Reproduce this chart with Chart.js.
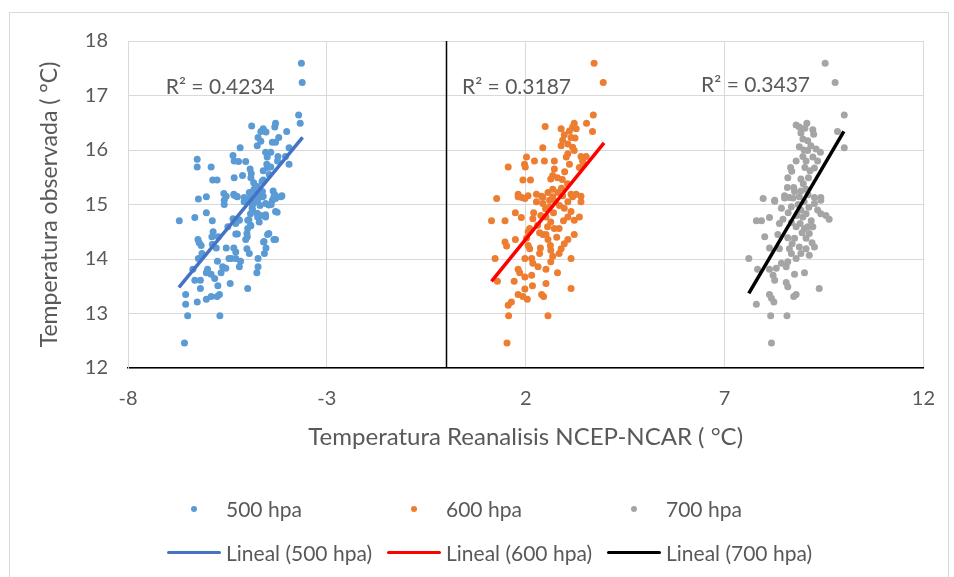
<!DOCTYPE html>
<html lang="es">
<head>
<meta charset="utf-8">
<title>Temperatura observada vs Reanalisis NCEP-NCAR</title>
<script src="https://cdn.jsdelivr.net/npm/chart.js@4.4.1/dist/chart.umd.min.js"></script>
<style>
  body { margin: 0; background: #fff; }
  #contenedor { position: relative; width: 954px; height: 577px; }
  #leyenda .item {
    position: absolute; height: 24px; line-height: 24px;
    font-family: Lato, sans-serif; font-size: 21px; color: #595959; white-space: nowrap;
  }
  #leyenda .simbolo { display: inline-block; width: 54px; height: 24px; position: relative; vertical-align: top; }
  #leyenda .punto { position: absolute; left: 24px; top: 9px; width: 6px; height: 6px; border-radius: 50%; }
  #leyenda .linea { position: absolute; left: 0; top: 10px; width: 54px; height: 3px; border-radius: 2px; }
  #leyenda .texto { margin-left: 5px; }
</style>
</head>
<body>
<div id="contenedor">
  <canvas id="chart-temperatura"></canvas>
  <div id="leyenda"></div>
</div>
<script>
// --- DATOS ---
const ticksX = [-8, -3, 2, 7, 12];
const series = ['500 hpa', '600 hpa', '700 hpa'];
const textosR2 = ['R² = 0.4234', 'R² = 0.3187', 'R² = 0.3437'];

// [Temperatura reanalisis, Temperatura observada]
const puntos500 = [
  [-3.64,17.59],[-3.62,17.24],[-3.71,16.64],[-3.67,16.49],[-4.89,16.44],[-4.29,16.49],[-4.31,16.42],[-4.60,16.39],
  [-4.66,16.34],[-4.53,16.33],[-4.01,16.34],[-4.73,16.23],[-4.21,16.23],[-4.66,16.16],[-4.37,16.14],[-4.75,16.08],
  [-4.29,16.14],[-3.95,16.04],[-5.18,16.04],[-6.26,15.83],[-6.26,15.69],[-5.91,15.69],[-5.36,15.90],[-5.33,15.80],
  [-5.22,15.79],[-5.04,15.79],[-4.54,15.96],[-4.50,15.87],[-4.41,15.96],[-4.23,15.88],[-4.24,15.80],[-4.51,15.74],
  [-4.49,15.68],[-3.95,15.74],[-4.41,15.69],[-4.93,15.65],[-4.90,15.57],[-5.12,15.53],[-4.91,15.49],[-5.33,15.49],
  [-5.87,15.45],[-5.76,15.45],[-4.60,15.45],[-4.04,15.88],[-5.59,15.20],[-5.53,15.15],[-5.34,15.19],[-5.27,15.15],
  [-6.03,15.14],[-6.23,15.10],[-4.95,15.22],[-4.83,15.28],[-4.76,15.18],[-4.35,15.25],[-4.31,15.18],[-4.14,15.15],
  [-4.60,15.15],[-5.08,15.13],[-5.58,15.08],[-5.58,15.00],[-5.25,15.14],[-5.08,15.05],[-4.95,15.11],[-4.87,14.99],
  [-4.87,14.90],[-4.74,15.08],[-4.62,15.14],[-4.54,15.02],[-4.37,15.08],[-4.33,15.14],[-4.16,15.14],[-4.29,14.87],
  [-4.74,14.77],[-4.54,14.77],[-4.66,14.80],[-6.71,14.70],[-6.32,14.76],[-6.03,14.85],[-5.88,14.70],[-5.36,14.74],
  [-5.20,14.71],[-5.29,14.65],[-4.99,14.71],[-4.91,14.61],[-4.99,14.56],[-5.49,14.59],[-5.86,14.50],[-5.29,14.46],
  [-5.01,14.47],[-5.04,14.36],[-4.49,14.45],[-4.33,14.36],[-6.24,14.36],[-6.21,14.30],[-6.16,14.25],[-5.89,14.41],
  [-5.73,14.41],[-5.88,14.27],[-5.78,14.20],[-5.53,14.20],[-5.34,14.20],[-5.29,14.13],[-5.01,14.19],[-4.95,14.10],
  [-4.59,14.31],[-4.53,14.20],[-4.57,14.10],[-6.14,14.10],[-6.23,14.01],[-5.75,13.96],[-5.46,14.01],[-5.40,14.01],
  [-5.29,14.01],[-5.17,13.96],[-4.73,14.01],[-5.20,13.86],[-5.62,13.86],[-5.54,13.83],[-5.66,13.75],[-4.73,13.86],
  [-4.76,13.75],[-6.37,13.81],[-6.00,13.81],[-6.03,13.75],[-5.91,13.72],[-5.82,13.64],[-6.32,13.61],[-6.18,13.61],
  [-5.43,13.55],[-5.74,13.51],[-6.18,13.46],[-4.99,13.46],[-6.55,13.35],[-5.70,13.35],[-5.76,13.31],[-5.91,13.31],
  [-6.03,13.26],[-6.26,13.21],[-6.55,13.17],[-6.50,12.96],[-5.69,12.96],[-6.58,12.46],[-5.33,15.17],[-4.96,15.08],
  [-4.83,15.27],[-4.75,15.33],[-4.63,15.42],[-4.71,15.17],[-4.88,14.93],[-4.75,14.84],[-4.54,14.81],[-4.96,14.72],
  [-4.92,14.62],[-5.21,14.72],[-4.46,14.99],[-4.29,15.11],[-4.13,15.16],[-4.25,14.86],[-4.46,14.47],[-4.29,14.36],
  [-4.58,14.32],[-5.00,14.41],[-5.25,14.46],[-4.80,15.05],[-4.68,14.98],[-4.85,15.14],[-4.62,15.24],[-4.92,14.83],
  [-4.70,14.68],[-4.40,15.00],[-4.84,15.40],[-4.45,15.55],[-4.60,15.62]
];

const puntos600 = [
  [3.72,17.59],[3.95,17.24],[3.70,16.64],[3.53,16.49],[2.49,16.43],[3.22,16.49],[3.18,16.42],[3.68,16.34],
  [2.89,16.39],[3.10,16.35],[3.27,16.39],[2.97,16.28],[3.14,16.23],[3.24,16.22],[2.93,16.18],[2.89,16.08],
  [3.06,16.11],[3.18,16.05],[2.43,16.04],[3.22,15.99],[3.06,15.93],[3.02,15.87],[3.39,15.88],[3.43,15.80],
  [3.52,15.88],[2.02,15.87],[1.97,15.74],[2.22,15.80],[2.47,15.80],[2.72,15.80],[3.10,15.74],[1.56,15.69],
  [1.99,15.69],[2.72,15.65],[2.68,15.53],[2.63,15.47],[2.80,15.49],[2.92,15.46],[1.93,15.45],[2.12,15.45],
  [3.47,15.74],[3.35,15.68],[1.27,15.11],[1.81,15.19],[1.90,15.13],[2.06,15.16],[2.27,15.19],[2.43,15.13],
  [2.56,15.22],[2.68,15.28],[2.81,15.22],[2.93,15.16],[3.14,15.19],[3.27,15.19],[3.39,15.15],[1.81,15.14],
  [1.98,15.11],[2.27,15.05],[2.43,15.02],[2.60,15.08],[2.68,15.14],[3.06,15.05],[3.18,15.14],[3.39,15.05],
  [2.97,14.93],[3.14,14.87],[3.35,14.77],[3.22,14.71],[3.06,14.77],[1.14,14.70],[1.48,14.70],[1.74,14.85],
  [1.89,14.76],[2.18,14.74],[2.51,14.77],[2.63,14.68],[2.55,14.59],[2.72,14.56],[2.84,14.56],[2.10,14.56],
  [2.06,14.50],[2.43,14.45],[2.51,14.45],[3.22,14.45],[3.06,14.36],[2.97,14.28],[2.89,14.19],[2.84,14.10],
  [2.63,14.16],[2.37,14.20],[2.35,14.10],[2.56,14.36],[1.48,14.31],[1.52,14.24],[1.74,14.36],[2.02,14.38],
  [2.06,14.25],[2.10,14.19],[2.15,14.01],[1.98,14.01],[1.23,14.01],[3.14,14.01],[2.63,13.95],[2.51,13.81],
  [2.31,13.86],[2.18,13.92],[1.81,13.81],[1.85,13.75],[1.98,13.67],[2.15,13.70],[2.80,13.75],[1.29,13.59],
  [1.71,13.59],[2.51,13.55],[2.17,13.51],[1.98,13.45],[3.14,13.46],[1.81,13.35],[1.93,13.31],[2.04,13.26],
  [2.40,13.35],[2.45,13.31],[1.64,13.21],[1.56,13.15],[1.57,12.96],[2.56,12.96],[1.53,12.46],[2.75,15.05],
  [2.85,14.98],[2.50,14.92],[2.38,14.80],[2.70,14.85],[2.95,14.70],[2.30,14.62],[2.62,14.25],[2.78,14.40],
  [2.60,14.96],[2.40,15.15],[2.90,15.30],[2.98,15.60],[3.05,15.38],[2.20,14.85],[2.35,14.48],[2.68,14.05]
];

const puntos700 = [
  [9.53,17.59],[9.78,17.24],[10.01,16.64],[9.84,16.34],[10.01,16.04],[8.80,16.46],[8.88,16.42],[9.07,16.49],
  [9.02,16.40],[9.22,16.37],[9.24,16.29],[8.92,16.31],[8.97,16.20],[9.09,16.17],[8.88,16.06],[9.17,16.08],
  [9.30,16.02],[9.09,15.99],[9.41,15.96],[8.97,15.88],[9.22,15.87],[9.05,15.80],[9.34,15.80],[9.02,15.68],
  [9.26,15.67],[8.66,15.68],[8.69,15.61],[8.92,15.47],[8.59,15.49],[9.11,15.49],[8.58,15.31],[8.74,15.31],
  [7.97,15.11],[8.26,15.08],[8.51,15.16],[8.76,15.24],[8.92,15.25],[9.05,15.28],[9.26,15.13],[9.42,15.13],
  [8.63,15.13],[8.26,15.06],[8.51,15.12],[8.72,15.12],[8.88,15.14],[9.42,15.08],[9.26,15.02],[8.43,14.93],
  [8.68,14.96],[8.92,14.90],[9.05,14.83],[9.34,14.90],[9.42,14.83],[9.55,14.80],[9.63,14.73],[7.80,14.70],
  [7.93,14.70],[8.13,14.76],[8.47,14.73],[8.38,14.65],[8.68,14.67],[8.80,14.59],[9.01,14.56],[9.09,14.59],
  [9.22,14.59],[8.97,14.77],[8.01,14.41],[8.34,14.45],[8.59,14.39],[8.76,14.38],[9.05,14.38],[9.13,14.47],
  [8.13,14.20],[8.38,14.19],[8.63,14.19],[8.88,14.22],[9.05,14.19],[9.26,14.22],[8.68,14.10],[8.92,14.10],
  [9.13,14.07],[8.80,14.01],[8.59,13.95],[7.61,14.01],[8.43,13.92],[8.55,13.86],[7.83,13.81],[8.13,13.81],
  [8.30,13.83],[8.76,13.72],[9.01,13.75],[8.22,13.70],[8.26,13.61],[8.55,13.57],[8.59,13.49],[8.80,13.35],
  [8.74,13.31],[9.38,13.46],[8.13,13.35],[8.18,13.28],[8.24,13.21],[7.80,13.17],[8.16,12.96],[8.57,12.96],
  [8.18,12.46],[9.00,15.05],[9.12,14.95],[8.82,14.80],[9.18,14.70],[8.95,14.48],[9.20,14.30],[8.70,14.28],
  [8.85,15.00],[9.10,15.18],[8.98,15.38],[9.15,15.62],[8.80,15.80],[9.00,16.00],[8.60,14.85],[8.90,14.65]
];

// Lineas de tendencia (extremos)
const lineal500 = [[-6.72, 13.48], [-3.61, 16.23]];
const lineal600 = [[1.14, 13.59], [3.97, 16.13]];
const lineal700 = [[7.61, 13.37], [10.0, 16.34]];

const coloresPuntos = ['#5B9BD5', '#ED7D31', '#A5A5A5'];
const coloresLineal = ['#4472C4', '#FF0000', '#000000'];

const FUENTE = 'Lato, "Open Sans", sans-serif';
const GRIS_TEXTO = '#595959';

function aXY(lista) {
  return lista.map(p => ({ x: p[0], y: p[1] }));
}

// --- PLUGINS ---
const fondoYBorde = {
  id: 'fondoYBorde',
  beforeDraw(chart) {
    const c = chart.ctx;
    c.save();
    c.fillStyle = '#fff';
    c.fillRect(0, 0, chart.width, chart.height);
    c.strokeStyle = '#d9d9d9';
    c.lineWidth = 1;
    c.strokeRect(9.5, 12.5, 939, 570);
    c.restore();
  }
};

// Eje vertical en x = 0 (linea negra)
const ejeCero = {
  id: 'ejeCero',
  beforeDatasetsDraw(chart) {
    const c = chart.ctx;
    const x = Math.round(chart.scales.x.getPixelForValue(0)) + 0.5;
    c.save();
    c.strokeStyle = '#000';
    c.lineWidth = 1.5;
    c.beginPath();
    c.moveTo(x, chart.chartArea.top);
    c.lineTo(x, chart.chartArea.bottom);
    c.stroke();
    c.restore();
  }
};

// Etiquetas R² junto a cada nube de puntos
const posicionesR2 = [[-7.05, 17.03], [0.40, 17.03], [6.41, 17.07]];
const etiquetasR2 = {
  id: 'etiquetasR2',
  afterDraw(chart) {
    const c = chart.ctx;
    c.save();
    c.font = '21px ' + FUENTE;
    c.fillStyle = GRIS_TEXTO;
    c.textAlign = 'left';
    c.textBaseline = 'alphabetic';
    textosR2.forEach((t, i) => {
      const px = chart.scales.x.getPixelForValue(posicionesR2[i][0]);
      const py = chart.scales.y.getPixelForValue(posicionesR2[i][1]);
      c.fillText(t, px, py);
    });
    c.restore();
  }
};

// --- RENDER ---
function renderizarGrafico() {
  const ctx = document.getElementById('chart-temperatura');
  const puntos = [puntos500, puntos600, puntos700];
  const lineales = [lineal500, lineal600, lineal700];

  const datasets = [];
  series.forEach((nombre, i) => {
    datasets.push({
      label: nombre,
      data: aXY(puntos[i]),
      backgroundColor: coloresPuntos[i],
      borderWidth: 0,
      pointRadius: 3.5,
      showLine: false,
      order: 2
    });
  });
  series.forEach((nombre, i) => {
    datasets.push({
      label: 'Lineal (' + nombre + ')',
      data: aXY(lineales[i]),
      borderColor: coloresLineal[i],
      borderWidth: 3.5,
      pointRadius: 0,
      showLine: true,
      order: 1
    });
  });

  new Chart(ctx.getContext('2d'), {
    type: 'scatter',
    data: { datasets: datasets },
    options: {
      responsive: true,
      maintainAspectRatio: false,
      animation: false,
      layout: { padding: { top: 41, right: 24, left: 0, bottom: 0 } },
      plugins: { legend: { display: false }, tooltip: { enabled: false } },
      scales: {
        x: {
          type: 'linear',
          min: -8, max: 12,
          afterBuildTicks: (eje) => { eje.ticks = ticksX.map(v => ({ value: v })); },
          afterFit: (eje) => { eje.height = 209; },
          grid: { color: '#d9d9d9', drawTicks: false },
          border: { color: '#000', width: 1.5 },
          ticks: { padding: 19, color: GRIS_TEXTO, font: { family: FUENTE, size: 20 } },
          title: {
            display: true,
            text: 'Temperatura Reanalisis NCEP-NCAR ( °C)',
            color: GRIS_TEXTO,
            font: { family: FUENTE, size: 24, lineHeight: 1.2 },
            padding: { top: 0, bottom: 125 }
          }
        },
        y: {
          min: 12, max: 18,
          afterFit: (eje) => { eje.width = 128; },
          grid: { color: '#d9d9d9', drawTicks: false },
          border: { color: '#d9d9d9' },
          ticks: { stepSize: 1, padding: 20, color: GRIS_TEXTO, font: { family: FUENTE, size: 20 } },
          title: {
            display: true,
            text: 'Temperatura observada ( °C)',
            color: GRIS_TEXTO,
            font: { family: FUENTE, size: 23, lineHeight: 1.2 },
            padding: { top: 36, bottom: 0 }
          }
        }
      }
    },
    plugins: [fondoYBorde, ejeCero, etiquetasR2]
  });

  construirLeyenda();
}

// Leyenda en dos filas, como en Excel
function construirLeyenda() {
  const cont = document.getElementById('leyenda');
  const columnas = [167, 387, 607];
  const filas = [497, 541];
  let html = '';
  series.forEach((nombre, i) => {
    html += `<div class="item" style="left:${columnas[i]}px; top:${filas[0]}px;">
      <span class="simbolo"><span class="punto" style="background:${coloresPuntos[i]}"></span></span><span class="texto">${nombre}</span></div>`;
    html += `<div class="item" style="left:${columnas[i]}px; top:${filas[1]}px;">
      <span class="simbolo"><span class="linea" style="background:${coloresLineal[i]}"></span></span><span class="texto">Lineal (${nombre})</span></div>`;
  });
  cont.innerHTML = html;
}

renderizarGrafico();
</script>
</body>
</html>
